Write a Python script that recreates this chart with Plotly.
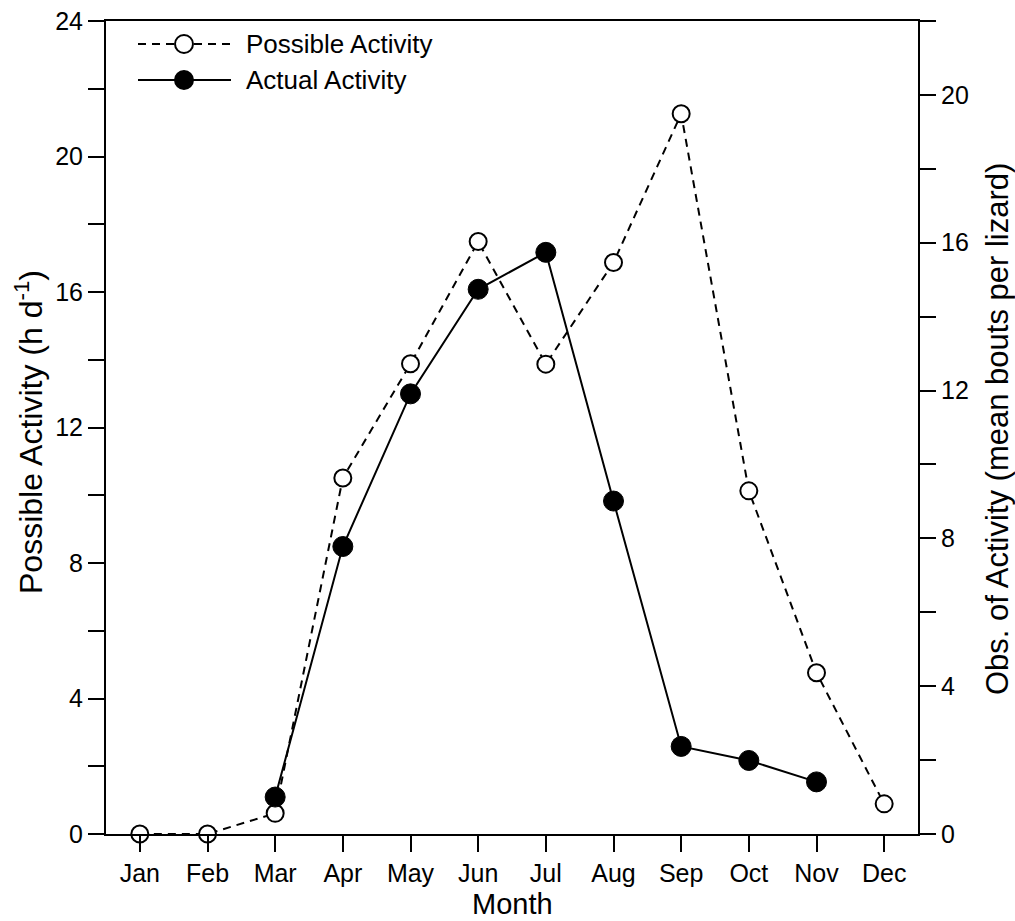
import plotly.graph_objects as go

# Monthly values
months = ["Jan", "Feb", "Mar", "Apr", "May", "Jun", "Jul", "Aug", "Sep", "Oct", "Nov", "Dec"]
month_pos = list(range(1, 13))

# Possible activity, hours per day (left axis)
possible_activity = [0.0, 0.0, 0.61, 10.51, 13.88, 17.49, 13.87, 16.87, 21.26, 10.13, 4.76, 0.89]

# Observed activity, mean bouts per lizard (right axis), Mar..Nov
actual_months = [3, 4, 5, 6, 7, 8, 9, 10, 11]
actual_activity = [1.0, 7.78, 11.91, 14.74, 15.74, 9.01, 2.37, 1.99, 1.41]

FONT = "Liberation Sans, Arial, Helvetica, sans-serif"
TICK_FONT = dict(family=FONT, size=25, color="black")

# Plot area in pixels
L, R, T, B = 106, 918, 21, 834
PW, PH = R - L, B - T

def px(x):
    return (x - L) / PW

def py(y):
    return (B - y) / PH

fig = go.Figure()

fig.add_trace(go.Scatter(
    x=actual_months, y=actual_activity, yaxis="y2",
    mode="lines+markers", name="Actual Activity",
    line=dict(color="black", width=2),
    marker=dict(symbol="circle", size=20, color="black", line=dict(color="black", width=1)),
    showlegend=False, cliponaxis=False,
))

fig.add_trace(go.Scatter(
    x=month_pos, y=possible_activity, yaxis="y",
    mode="lines+markers", name="Possible Activity",
    line=dict(color="black", width=2, dash="8px,6px"),
    marker=dict(symbol="circle", size=17, color="white", line=dict(color="black", width=2)),
    showlegend=False, cliponaxis=False,
))

# Legend drawn at the upper left of the plot
legend_rows = [
    ("Possible Activity", "8px,6px", "white", 44),
    ("Actual Activity", "solid", "black", 80),
]
shapes = []
annotations = []
for label, dash, fill, ypix in legend_rows:
    yy = py(ypix)
    shapes.append(dict(type="line", xref="paper", yref="paper",
                       x0=px(138), x1=px(231), y0=yy, y1=yy,
                       line=dict(color="black", width=2, dash=dash)))
    shapes.append(dict(type="circle", xref="paper", yref="paper",
                       xsizemode="pixel", ysizemode="pixel",
                       xanchor=px(184), yanchor=yy,
                       x0=-9, x1=9, y0=-9, y1=9,
                       fillcolor=fill, line=dict(color="black", width=2)))
    annotations.append(dict(xref="paper", yref="paper", x=px(244), y=yy,
                            xanchor="left", yanchor="middle", showarrow=False,
                            text=label, font=dict(family=FONT, size=26, color="black")))

# Axis titles
annotations.append(dict(xref="paper", yref="paper", x=0.5, y=py(904),
                        xanchor="center", yanchor="middle", showarrow=False,
                        text="Month", font=dict(family=FONT, size=29, color="black")))
annotations.append(dict(xref="paper", yref="paper", x=px(29), y=py(432),
                        xanchor="center", yanchor="middle", showarrow=False, textangle=-90,
                        text="Possible Activity (h d<sup>-1</sup>)",
                        font=dict(family=FONT, size=32, color="black")))
annotations.append(dict(xref="paper", yref="paper", x=px(997), y=py(429),
                        xanchor="center", yanchor="middle", showarrow=False, textangle=-90,
                        text="Obs. of Activity (mean bouts per lizard)",
                        font=dict(family=FONT, size=31, color="black")))

axis_common = dict(
    showgrid=False, zeroline=False,
    showline=True, linecolor="black", linewidth=2,
    ticks="outside", ticklen=16, tickwidth=2, tickcolor="black",
    tickfont=TICK_FONT,
)
minor_ticks = dict(tickvals=[2, 6, 10, 14, 18, 22], ticks="outside", ticklen=16,
                   tickwidth=2, tickcolor="black", showgrid=False)

fig.update_layout(
    width=1015, height=921,
    margin=dict(l=L, r=1015 - R, t=T, b=921 - B, autoexpand=False),
    paper_bgcolor="white", plot_bgcolor="white",
    font=dict(family=FONT, color="black"),
    shapes=shapes, annotations=annotations,
    xaxis=dict(range=[0.5, 12.5], tickvals=month_pos, ticktext=months,
               mirror=True, **axis_common),
    yaxis=dict(range=[0, 24], tickvals=[0, 4, 8, 12, 16, 20, 24],
               minor=minor_ticks, **axis_common),
    yaxis2=dict(range=[0, 22], tickvals=[0, 4, 8, 12, 16, 20],
                overlaying="y", side="right",
                minor=minor_ticks, **axis_common),
)

fig.write_html("out.html")
